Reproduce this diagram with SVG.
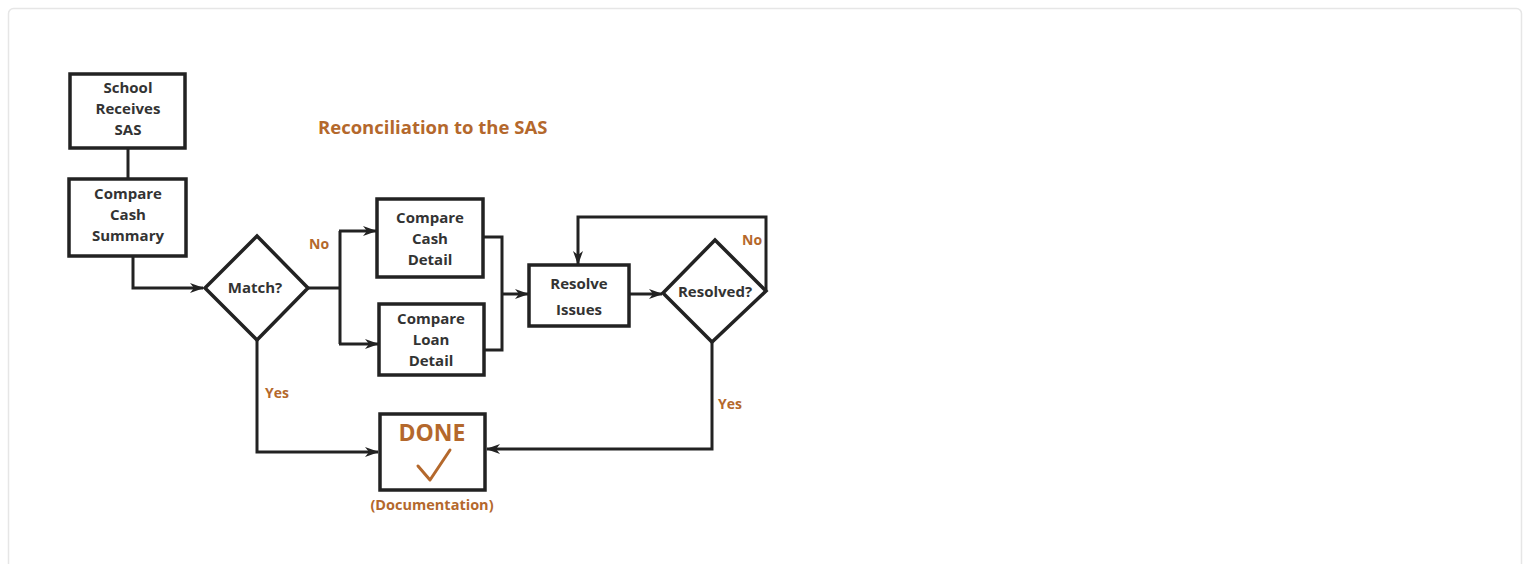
<svg xmlns="http://www.w3.org/2000/svg" width="1528" height="564" viewBox="0 0 1528 564">
<defs>
<marker id="ah" viewBox="0 0 14 10" refX="13" refY="5" markerWidth="14" markerHeight="10" markerUnits="userSpaceOnUse" orient="auto">
<path d="M0,0 L14,5 L0,10 L4,5 Z" fill="#222"/>
</marker>
</defs>
<style>
.box{fill:#fff;stroke:#222;stroke-width:3.5}
.t{font-family:"Open Sans","Liberation Sans",sans-serif;font-weight:bold;font-size:15px;fill:#333;text-anchor:middle}
.o{font-family:"Open Sans","Liberation Sans",sans-serif;font-weight:bold;font-size:14px;fill:#b4682c}
.c{fill:none;stroke:#222;stroke-width:3}
</style>
<rect x="0" y="0" width="1528" height="564" fill="#fff"/>
<rect x="8.5" y="8.5" width="1513" height="600" rx="5" fill="#fff" stroke="#e6e6e6" stroke-width="1.5"/>
<text class="o" x="318" y="134" style="font-size:18.5px">Reconciliation to the SAS</text>
<g id="connectors">
<path class="c" d="M128,148 V179"/>
<path class="c" d="M133,256 V288 H203" marker-end="url(#ah)"/>
<path class="c" d="M308,288 H340 M340,231 V344"/>
<path class="c" d="M339,231 H376" marker-end="url(#ah)"/>
<path class="c" d="M339,344 H378" marker-end="url(#ah)"/>
<path class="c" d="M484,237 H502 V350 H485"/>
<path class="c" d="M502,294 H528" marker-end="url(#ah)"/>
<path class="c" d="M629,294 H662" marker-end="url(#ah)"/>
<path class="c" d="M766,290 V217 H578 V264" marker-end="url(#ah)"/>
<path class="c" d="M257,340 V452 H378" marker-end="url(#ah)"/>
<path class="c" d="M712,342 V449 H487" marker-end="url(#ah)"/>
<text class="o" x="309" y="249">No</text>
<text class="o" x="265" y="398">Yes</text>
<text class="o" x="742" y="245">No</text>
<text class="o" x="718" y="409">Yes</text>
</g>
<g id="school">
<rect class="box" x="70" y="74" width="115" height="74"/>
<text class="t" x="128" y="93">School</text>
<text class="t" x="128" y="114">Receives</text>
<text class="t" x="128" y="135">SAS</text>
</g>
<g id="cashsummary">
<rect class="box" x="69" y="179" width="117" height="77"/>
<text class="t" x="128" y="199">Compare</text>
<text class="t" x="128" y="220">Cash</text>
<text class="t" x="128" y="241">Summary</text>
</g>
<g id="match">
<path class="box" d="M257,236 L308,288 L257,340 L205,288 Z" stroke-width="3"/>
<text class="t" x="255" y="293">Match?</text>
</g>
<g id="cashdetail">
<rect class="box" x="377" y="199" width="106" height="78"/>
<text class="t" x="430" y="223">Compare</text>
<text class="t" x="430" y="244">Cash</text>
<text class="t" x="430" y="265">Detail</text>
</g>
<g id="loandetail">
<rect class="box" x="379" y="304" width="105" height="71"/>
<text class="t" x="431" y="324">Compare</text>
<text class="t" x="431" y="345">Loan</text>
<text class="t" x="431" y="366">Detail</text>
</g>
<g id="resolve">
<rect class="box" x="529" y="265" width="100" height="61"/>
<text class="t" x="579" y="289">Resolve</text>
<text class="t" x="579" y="315">Issues</text>
</g>
<g id="resolved">
<path class="box" d="M715,240 L766,291 L712,342 L663,293 Z" stroke-width="3"/>
<text class="t" x="715" y="297">Resolved?</text>
</g>
<g id="done">
<rect class="box" x="380" y="414" width="105" height="76"/>
<text class="o" x="432" y="441" style="font-size:23px;text-anchor:middle">DONE</text>
<path d="M418,466 L430,480 L450,450" fill="none" stroke="#b4682c" stroke-width="3" stroke-linecap="round" stroke-linejoin="round"/>
<text class="o" x="432" y="510" style="font-size:14.5px;text-anchor:middle">(Documentation)</text>
</g>
</svg>
